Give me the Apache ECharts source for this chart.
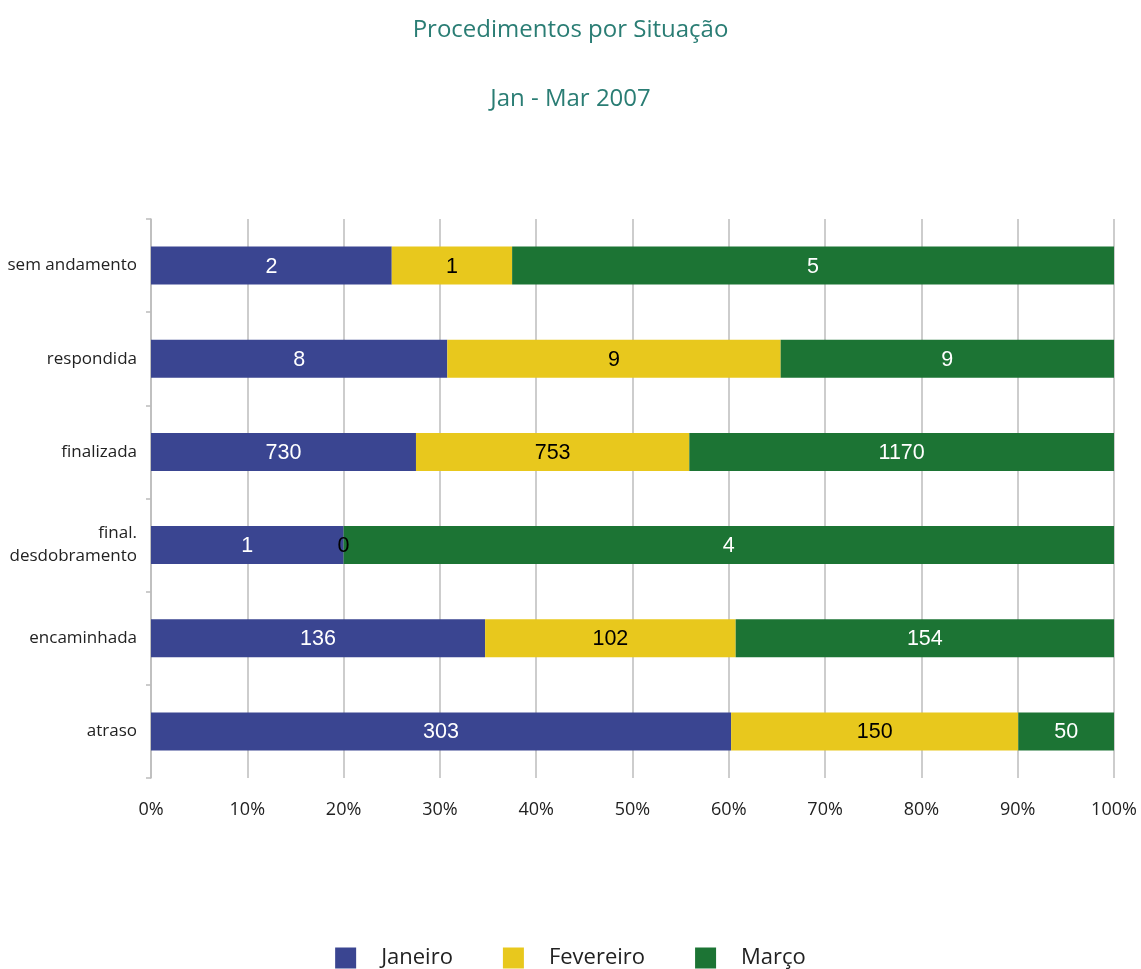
<!DOCTYPE html>
<html>
<head>
<meta charset="utf-8">
<script src="https://cdn.jsdelivr.net/npm/echarts@6/dist/echarts.min.js"></script>
<style>html,body{margin:0;padding:0;background:#fff}#c{width:1141px;height:969px}</style>
</head>
<body>
<div id="c"></div>
<script>
var categories = ['sem andamento', 'respondida', 'finalizada', 'final.\ndesdobramento', 'encaminhada', 'atraso'];
var janeiro = [2, 8, 730, 1, 136, 303];
var fevereiro = [1, 9, 753, 0, 102, 150];
var marco = [5, 9, 1170, 4, 154, 50];
var xTicks = ['0%', '10%', '20%', '30%', '40%', '50%', '60%', '70%', '80%', '90%', '100%'];

var totals = categories.map(function (c, i) { return janeiro[i] + fevereiro[i] + marco[i]; });
function pct(arr) { return arr.map(function (v, i) { return v / totals[i] * 100; }); }

function mkSeries(name, raw, color, labelColor) {
  return {
    name: name,
    type: 'bar',
    stack: 'total',
    barWidth: 38,
    data: pct(raw),
    itemStyle: { color: color },
    label: {
      show: true,
      position: 'inside',
      offset: [0, 1],
      color: labelColor,
      fontFamily: 'Liberation Sans, Arial, sans-serif',
      fontSize: 21.5,
      formatter: function (p) { return String(raw[p.dataIndex]); }
    },
    emphasis: { disabled: true }
  };
}

var chart = echarts.init(document.getElementById('c'), null, { renderer: 'canvas' });
chart.setOption({
  animation: false,
  title: [
    { text: 'Procedimentos por Situação', left: 'center', top: 13,
      textStyle: { color: '#2a7d74', fontFamily: 'Open Sans', fontWeight: 'normal', fontSize: 24 } },
    { text: 'Jan - Mar 2007', left: 'center', top: 82,
      textStyle: { color: '#2a7d74', fontFamily: 'Open Sans', fontWeight: 'normal', fontSize: 24 } }
  ],
  grid: { left: 151, right: 27, top: 219, bottom: 191, containLabel: false },
  legend: {
    top: 947,
    left: 'center',
    padding: 0,
    itemWidth: 21,
    itemHeight: 21,
    itemGap: 50,
    icon: 'rect',
    textStyle: { fontFamily: 'Open Sans', fontSize: 22, color: '#222', padding: [0, 0, 4, 20] },
    data: ['Janeiro', 'Fevereiro', 'Março']
  },
  xAxis: {
    type: 'value',
    min: 0,
    max: 100,
    interval: 10,
    axisLine: { show: false },
    axisTick: { show: false },
    splitLine: { show: true, lineStyle: { color: '#bcbcbc', width: 1.5 } },
    axisLabel: {
      margin: 23,
      fontFamily: 'Open Sans',
      fontSize: 18,
      color: '#222',
      formatter: function (v) { return xTicks[Math.round(v / 10)]; }
    }
  },
  yAxis: {
    type: 'category',
    inverse: true,
    data: categories,
    axisLine: { show: true, lineStyle: { color: '#bcbcbc', width: 1.5 } },
    axisTick: { show: true, length: 5, lineStyle: { color: '#bcbcbc', width: 1.5 } },
    axisLabel: {
      margin: 14,
      fontFamily: 'Open Sans',
      fontSize: 17,
      color: '#222',
      lineHeight: 23,
      align: 'right'
    }
  },
  series: [
    mkSeries('Janeiro', janeiro, '#3a4591', '#ffffff'),
    mkSeries('Fevereiro', fevereiro, '#e8c81d', '#000000'),
    mkSeries('Março', marco, '#1c7434', '#ffffff')
  ]
});
</script>
</body>
</html>
